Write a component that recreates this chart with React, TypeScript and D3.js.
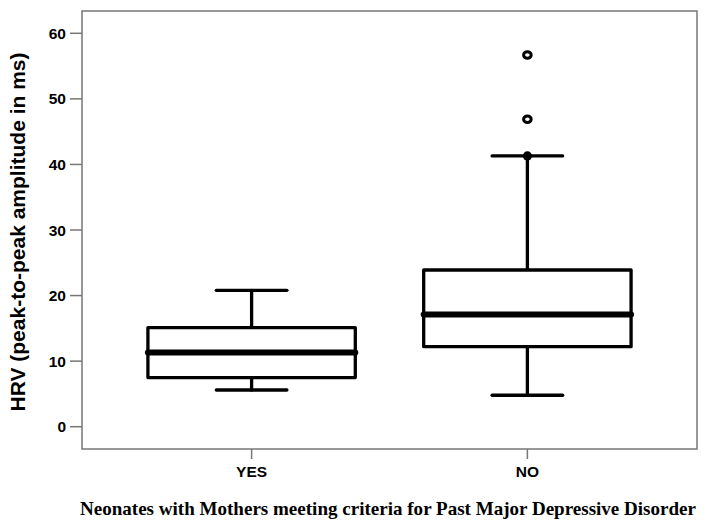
import React from "react";
import * as d3 from "d3";

const categories = ["YES", "NO"];
const mins = [5.6, 4.8];
const q1s = [7.5, 12.2];
const medians = [11.3, 17.1];
const q3s = [15.1, 23.9];
const maxs = [20.8, 41.3];
const outlierCategory = ["NO", "NO"];
const outlierValues = [46.9, 56.7];
const extremeCategory = ["NO"];
const extremeValues = [41.3];
const yTicks = [0, 10, 20, 30, 40, 50, 60];

const W = 708;
const H = 525;
const left = 82;
const right = 697;
const top = 11;
const bottom = 449;

export default function App() {
  const x = d3.scalePoint<string>().domain(categories).range([left, right]).padding(0.615);
  const y = d3.scaleLinear().domain([-3.4, 63.4]).range([bottom, top]);
  const step = x.step();
  const boxHalf = step * 0.376;
  const capHalf = step * 0.128;
  const sans = "Liberation Sans, Arial, sans-serif";

  return (
    <svg width={W} height={H} style={{ display: "block", position: "absolute", left: 0, top: 0 }}>
      <rect x={0} y={0} width={W} height={H} fill="#fff" />
      <rect x={left} y={top} width={right - left} height={bottom - top} fill="none" stroke="#777" strokeWidth={1.5} />
      {yTicks.map((t) => (
        <g key={t}>
          <line x1={left - 12} x2={left} y1={y(t)} y2={y(t)} stroke="#777" strokeWidth={1.5} />
          <text x={left - 16} y={y(t)} dy="0.36em" textAnchor="end" fontFamily={sans} fontWeight="bold" fontSize={15.5} fill="#000">
            {t}
          </text>
        </g>
      ))}
      {categories.map((c) => (
        <g key={c}>
          <line x1={x(c)} x2={x(c)} y1={bottom} y2={bottom + 10} stroke="#777" strokeWidth={1.5} />
          <text x={x(c)} y={477} textAnchor="middle" fontFamily={sans} fontWeight="bold" fontSize={15.5} fill="#000">
            {c}
          </text>
        </g>
      ))}
      {categories.map((c, i) => {
        const cx = x(c) as number;
        return (
          <g key={"b" + c} stroke="#000" fill="none" strokeLinecap="round">
            <line x1={cx} x2={cx} y1={y(q3s[i])} y2={y(maxs[i])} strokeWidth={3.3} />
            <line x1={cx} x2={cx} y1={y(q1s[i])} y2={y(mins[i])} strokeWidth={3.3} />
            <line x1={cx - capHalf} x2={cx + capHalf} y1={y(maxs[i])} y2={y(maxs[i])} strokeWidth={3.3} />
            <line x1={cx - capHalf} x2={cx + capHalf} y1={y(mins[i])} y2={y(mins[i])} strokeWidth={3.3} />
            <rect x={cx - boxHalf} y={y(q3s[i])} width={2 * boxHalf} height={y(q1s[i]) - y(q3s[i])} fill="#fff" strokeWidth={3.3} strokeLinejoin="round" />
            <line x1={cx - boxHalf} x2={cx + boxHalf} y1={y(medians[i])} y2={y(medians[i])} strokeWidth={6} />
          </g>
        );
      })}
      {outlierValues.map((v, i) => (
        <ellipse key={"o" + i} cx={x(outlierCategory[i])} cy={y(v)} rx={3.8} ry={3.3} fill="#fff" stroke="#000" strokeWidth={3} />
      ))}
      {extremeValues.map((v, i) => (
        <circle key={"e" + i} cx={x(extremeCategory[i])} cy={y(v)} r={4.6} fill="#000" />
      ))}
      <text
        transform={`translate(25, 232) rotate(-90)`}
        textAnchor="middle"
        fontFamily={sans}
        fontWeight="bold"
        fontSize={21}
        fill="#000"
      >
        HRV (peak-to-peak amplitude in ms)
      </text>
      <text x={388} y={515} textAnchor="middle" fontFamily="Liberation Serif, Times New Roman, serif" fontWeight="bold" fontSize={19} textLength={616} lengthAdjust="spacingAndGlyphs" fill="#000">
        Neonates with Mothers meeting criteria for Past Major Depressive Disorder
      </text>
    </svg>
  );
}
